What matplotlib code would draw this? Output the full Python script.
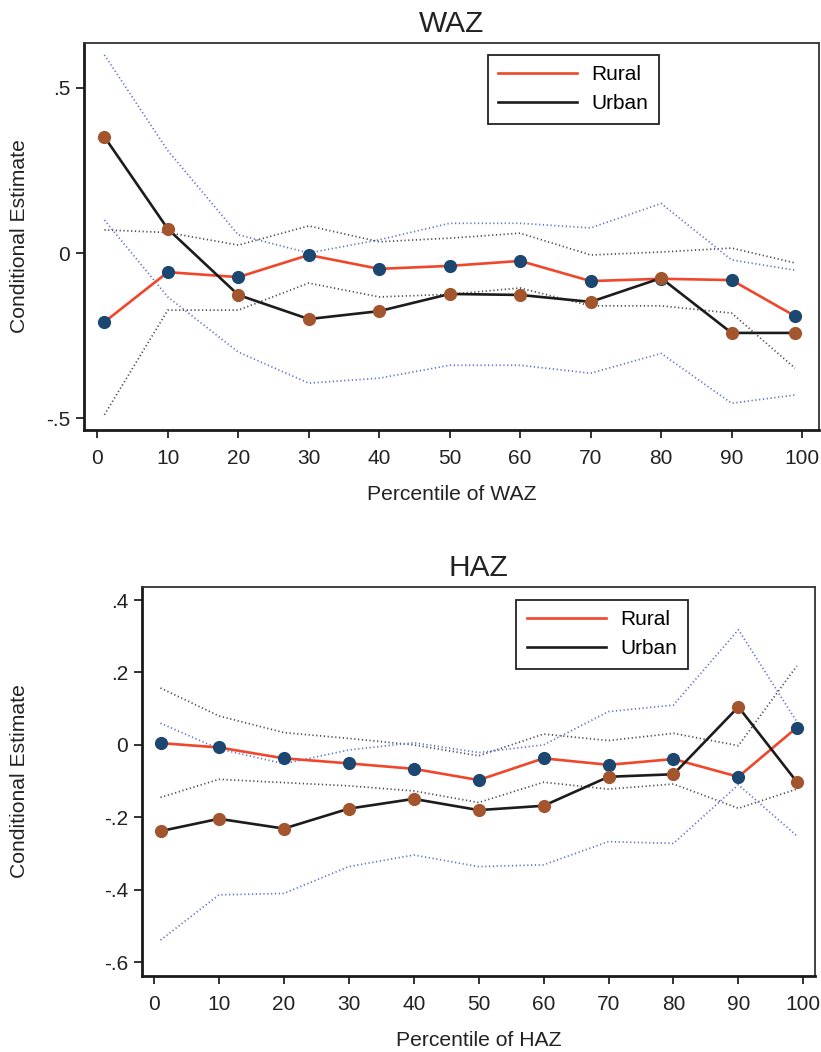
import matplotlib
matplotlib.use("Agg")
import matplotlib.pyplot as plt

plt.rcParams['font.family'] = ['Liberation Sans', 'DejaVu Sans']

# Percentiles
pct = [1, 10, 20, 30, 40, 50, 60, 70, 80, 90, 99]

# WAZ estimates and confidence bands
waz_rural = [-0.209, -0.058, -0.073, -0.006, -0.048, -0.039, -0.024, -0.085, -0.078, -0.082, -0.191]
waz_rural_hi = [0.07, 0.062, 0.024, 0.082, 0.034, 0.045, 0.06, -0.006, 0.003, 0.015, -0.03]
waz_rural_lo = [-0.49, -0.173, -0.173, -0.091, -0.133, -0.125, -0.106, -0.16, -0.16, -0.182, -0.349]
waz_urban = [0.352, 0.073, -0.127, -0.2, -0.176, -0.124, -0.127, -0.148, -0.076, -0.242, -0.242]
waz_urban_hi = [0.6, 0.31, 0.055, 0.0, 0.04, 0.09, 0.09, 0.076, 0.15, -0.021, -0.052]
waz_urban_lo = [0.1, -0.133, -0.30, -0.394, -0.379, -0.34, -0.34, -0.364, -0.304, -0.455, -0.43]

# HAZ estimates and confidence bands
haz_rural = [0.005, -0.007, -0.037, -0.051, -0.066, -0.097, -0.037, -0.055, -0.039, -0.088, 0.048]
haz_rural_hi = [0.157, 0.08, 0.034, 0.018, 0.0, -0.03, 0.03, 0.012, 0.032, -0.002, 0.218]
haz_rural_lo = [-0.145, -0.095, -0.104, -0.113, -0.127, -0.159, -0.103, -0.122, -0.108, -0.175, -0.122]
haz_urban = [-0.238, -0.204, -0.231, -0.176, -0.149, -0.18, -0.168, -0.088, -0.081, 0.105, -0.102]
haz_urban_hi = [0.06, -0.011, -0.052, -0.014, 0.006, -0.021, 0.0, 0.092, 0.11, 0.318, 0.064]
haz_urban_lo = [-0.539, -0.414, -0.41, -0.336, -0.304, -0.336, -0.331, -0.267, -0.272, -0.11, -0.251]

xticks = [0, 10, 20, 30, 40, 50, 60, 70, 80, 90, 100]

RURAL_LINE = '#f0462a'
URBAN_LINE = '#1c1c1c'
RURAL_DOT = '#1b4770'
URBAN_DOT = '#a3552e'
BAND_BLUE = '#5f6fd0'
BAND_GRAY = '#4a4a4a'


def stata_fmt(v):
    s = ('%g' % round(v, 2))
    return s.replace('0.', '.')


def plot_panel(ax, title, rural, r_hi, r_lo, urban, u_hi, u_lo, yticks, ylim, xlim, xlabel, ylab_x, leg_xy):
    dots = (0, (0.7, 1.5))
    ax.plot(pct, r_hi, color=BAND_GRAY, lw=1.25, ls=dots)
    ax.plot(pct, r_lo, color=BAND_GRAY, lw=1.25, ls=dots)
    ax.plot(pct, u_hi, color=BAND_BLUE, lw=1.25, ls=dots)
    ax.plot(pct, u_lo, color=BAND_BLUE, lw=1.25, ls=dots)
    l1, = ax.plot(pct, rural, color=RURAL_LINE, lw=1.9, zorder=3)
    l2, = ax.plot(pct, urban, color=URBAN_LINE, lw=1.9, zorder=3)
    ax.plot(pct, rural, 'o', color=RURAL_DOT, ms=9.5, mec='none', zorder=4)
    ax.plot(pct, urban, 'o', color=URBAN_DOT, ms=9.5, mec='none', zorder=5)

    ax.set_xlim(xlim)
    ax.set_ylim(ylim)
    ax.set_xticks(xticks)
    ax.set_yticks(yticks)
    ax.set_yticklabels([stata_fmt(v) for v in yticks])
    ax.tick_params(axis='both', labelsize=15, length=6, width=1.3, colors='#222222', direction='out')
    ax.tick_params(axis='x', pad=8)
    ax.tick_params(axis='y', pad=4)

    for side in ['left', 'bottom']:
        ax.spines[side].set_linewidth(2.0)
        ax.spines[side].set_color('#1a1a1a')
    for side in ['top', 'right']:
        ax.spines[side].set_linewidth(1.3)
        ax.spines[side].set_color('#333333')

    ax.set_title(title, fontsize=21.5, color='#222222', pad=8)
    ax.set_xlabel(xlabel, fontsize=15.2, color='#222222', labelpad=12)
    ax.set_ylabel('Conditional Estimate', fontsize=15.2, color='#222222')
    ax.yaxis.set_label_coords(ylab_x, 0.5)

    leg = ax.legend([l1, l2], ['Rural', 'Urban'], loc='upper left', bbox_to_anchor=leg_xy,
                    fontsize=15, frameon=True, fancybox=False, handlelength=3.8,
                    handletextpad=0.7, borderpad=0.5, labelspacing=0.48, borderaxespad=0)
    leg.get_frame().set_edgecolor('#222222')
    leg.get_frame().set_linewidth(1.3)
    leg.get_frame().set_alpha(1)


fig = plt.figure(figsize=(8.21, 10.52), dpi=100)
ax1 = fig.add_axes([84 / 821, 1 - 430 / 1052, 735 / 821, 387 / 1052])
ax2 = fig.add_axes([142 / 821, 1 - 976 / 1052, 673 / 821, 389 / 1052])

plot_panel(ax1, 'WAZ', waz_rural, waz_rural_hi, waz_rural_lo, waz_urban, waz_urban_hi, waz_urban_lo,
           [0.5, 0, -0.5], (-0.536, 0.636), (-1.89, 102.4), 'Percentile of WAZ', -0.075, (0.549, 0.969))
plot_panel(ax2, 'HAZ', haz_rural, haz_rural_hi, haz_rural_lo, haz_urban, haz_urban_hi, haz_urban_lo,
           [0.4, 0.2, 0, -0.2, -0.4, -0.6], (-0.638, 0.436), (-1.85, 101.8), 'Percentile of HAZ', -0.168, (0.556, 0.967))

fig.savefig('out.png', dpi=100)
